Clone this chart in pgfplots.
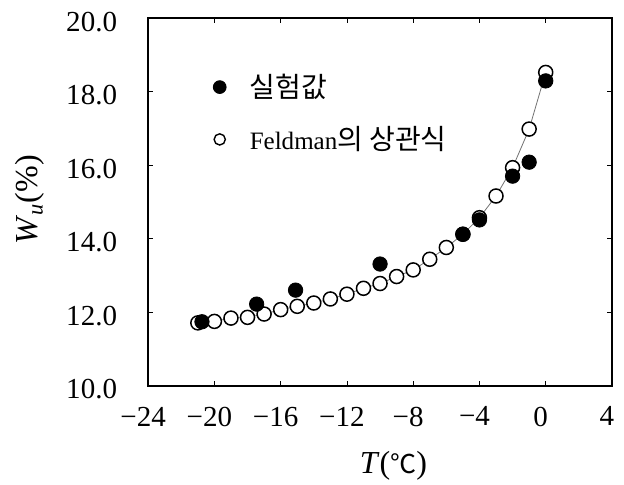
\documentclass[border=0pt]{standalone}
\usepackage{fontspec}
\setmainfont{Liberation Serif}
\newfontfamily\kr{Noto Sans CJK KR}
\usepackage{pgfplots}
\pgfplotsset{compat=1.18}

% Feldman correlation (open circles)
\pgfplotstableread{
x y
-21 11.71
-20 11.75
-19 11.84
-18 11.86
-17 11.95
-16 12.07
-15 12.16
-14 12.25
-13 12.36
-12 12.49
-11 12.65
-10 12.78
-9 12.97
-8 13.15
-7 13.44
-6 13.76
-5 14.12
-4 14.57
-3 15.16
-2 15.93
-1 16.98
0 18.52
}\feldman

% measured values (filled)
\pgfplotstableread{
x y
-20.75 11.74
-17.45 12.22
-15.1 12.60
-10.0 13.31
-5.0 14.12
-4.0 14.51
-2.0 15.70
-1.0 16.08
0.0 18.29
}\measured

\begin{document}
\begin{tikzpicture}
\begin{axis}[
    name=main,
    scale only axis,
    width=231.7pt, height=183.7pt,
    xmin=-24, xmax=4,
    ymin=10, ymax=20,
    xtick={-24,-20,-16,-12,-8,-4,0,4},
    xticklabels={−24,−20,−16,−12,−8,−4,0,4},
    ytick={10,12,14,16,18,20},
    yticklabels={10.0,12.0,14.0,16.0,18.0,20.0},
    ticklabel style={font=\fontsize{14.5}{16}\selectfont},
    xticklabel style={yshift=-7pt, xshift=-2.5pt},
    yticklabel style={xshift=-12pt, yshift=-1.8pt},
    tick align=inside,
    major tick length=2.5pt,
    tick style={black, line width=0.4pt},
    axis line style={line width=0.9pt},
    xlabel={\fontsize{16}{18}\selectfont\textit{T}({\kr\fontsize{13}{18}\selectfont ℃})},
    ylabel={\fontsize{16}{18}\selectfont\textit{W}\textsubscript{\textit{u}}(\%)},
    xlabel style={at={(axis description cs:0.529,-0.218)}, anchor=center},
    ylabel style={at={(axis description cs:-0.255,0.506)}, anchor=center},
    legend style={at={(axis description cs:0.106,0.86)}, anchor=north west,
        draw=none, fill=none, row sep=9pt, inner sep=0pt},
    legend cell align=left,
    reverse legend,
]
\addplot[black!55, line width=0.4pt, mark=*, mark size=3.5pt,
    mark options={draw=black, fill=white, line width=0.75pt, solid},
    legend image code/.code={\path[draw=none, fill=none] (0.3cm-11pt,0cm) -- (0.3cm+13pt,0cm);
        \draw[black, fill=white, line width=0.7pt] (0.3cm,0cm) circle (2.8pt);}]
    table[x=x, y=y] {\feldman};
\addlegendentry{\fontsize{12.5}{15}\selectfont Feldman{\kr\fontsize{14}{16}\selectfont 의 상관식}}

\addplot[only marks, mark=*, mark size=3.6pt, black,
    legend image code/.code={\path[draw=none, fill=none] (0.3cm-11pt,0cm) -- (0.3cm+13pt,0cm);
        \fill[black] (0.3cm,0cm) circle (3.2pt);}]
    table[x=x, y=y] {\measured};
\addlegendentry{{\kr\fontsize{14}{16}\selectfont 실험값}}
\end{axis}
\pgfresetboundingbox
\path ([xshift=-74pt, yshift=-49.5pt]main.south west) rectangle ([xshift=6pt, yshift=9pt]main.north east);
\end{tikzpicture}
\end{document}
